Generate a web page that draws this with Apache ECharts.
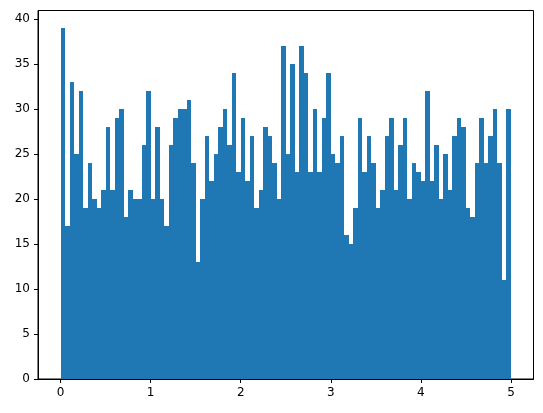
<!DOCTYPE html>
<html>
<head>
<meta charset="utf-8">
<script src="https://cdn.jsdelivr.net/npm/echarts@6/dist/echarts.min.js"></script>
<style>
  html, body { margin: 0; padding: 0; background: #fff; }
  #chart { width: 543px; height: 413px; }
</style>
</head>
<body>
<div id="chart"></div>
<script>
// 直方图: 100 个区间, 0 ~ 5
var binStart = 0;
var binWidth = 0.05;
var counts = [
  39, 17, 33, 25, 32, 19, 24, 20, 19, 21,
  28, 21, 29, 30, 18, 21, 20, 20, 26, 32,
  20, 28, 20, 17, 26, 29, 30, 30, 31, 24,
  13, 20, 27, 22, 25, 28, 30, 26, 34, 23,
  29, 22, 27, 19, 21, 28, 27, 24, 20, 37,
  25, 35, 23, 37, 34, 23, 30, 23, 29, 34,
  25, 24, 27, 16, 15, 19, 29, 23, 27, 24,
  19, 21, 27, 29, 21, 26, 29, 20, 24, 23,
  22, 32, 22, 26, 20, 25, 21, 27, 29, 28,
  19, 18, 24, 29, 24, 27, 30, 24, 11, 30
];
var xTicks = [0, 1, 2, 3, 4, 5];
var yTicks = [0, 5, 10, 15, 20, 25, 30, 35, 40];

var myChart = echarts.init(document.getElementById('chart'));

// 每个区间 [起点, 终点, 计数]
var histData = [];
for (var i = 0; i < counts.length; i++) {
    histData.push([binStart + i * binWidth, binStart + (i + 1) * binWidth, counts[i]]);
}

var axisText = { color: '#000', fontSize: 12, fontFamily: 'DejaVu Sans' };

var option = {
    animation: false,
    grid: {
        left: 38,
        right: 9.5,
        top: 10.5,
        bottom: 34,
        show: true,
        borderColor: '#000',
        borderWidth: 1,
        backgroundColor: 'transparent'
    },
    xAxis: {
        type: 'value',
        min: -0.25,
        max: 5.25,
        splitLine: { show: false },
        axisLine: { show: true, onZero: false, lineStyle: { color: '#000', width: 1 } },
        axisTick: { show: true, inside: false, length: 4, customValues: xTicks, lineStyle: { color: '#000' } },
        axisLabel: Object.assign({ customValues: xTicks, margin: 8 }, axisText)
    },
    yAxis: {
        type: 'value',
        min: 0,
        max: 40.95,
        splitLine: { show: false },
        axisLine: { show: true, onZero: false, lineStyle: { color: '#000', width: 1 } },
        axisTick: { show: true, inside: false, length: 4, customValues: yTicks, lineStyle: { color: '#000' } },
        axisLabel: Object.assign({ customValues: yTicks, margin: 8 }, axisText)
    },
    series: [{
        type: 'custom',
        data: histData,
        encode: { x: [0, 1], y: 2 },
        renderItem: function (params, api) {
            var p0 = api.coord([api.value(0), api.value(2)]);
            var p1 = api.coord([api.value(1), 0]);
            // 取整避免相邻柱子之间出现缝隙
            var x0 = Math.round(p0[0]);
            var x1 = Math.round(p1[0]);
            return {
                type: 'rect',
                shape: { x: x0, y: p0[1], width: x1 - x0, height: p1[1] - p0[1] },
                style: { fill: '#1f77b4' }
            };
        }
    }]
};
myChart.setOption(option);
</script>
</body>
</html>
